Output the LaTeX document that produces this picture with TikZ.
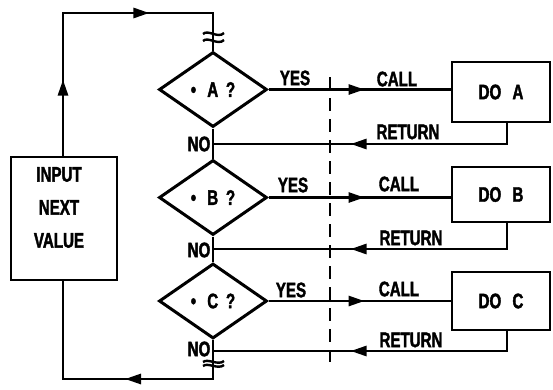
\documentclass[tikz,border=0pt]{standalone}
\usepackage{fontspec}
\setmainfont{Liberation Sans}[FakeStretch=0.72,FakeBold=1.8]
\usetikzlibrary{shapes.geometric,arrows.meta,decorations.markings}
\tikzset{
  lbl/.style={font=\fontsize{21}{33}\selectfont\bfseries, inner sep=0pt},
  flow/.style={line width=2.8pt, line join=miter},
  boxst/.style={draw, line width=2.8pt, inner sep=0pt, font=\fontsize{21}{21}\selectfont\bfseries},
  dia/.style={draw, diamond, line width=3pt, inner sep=0pt, minimum width=108pt, minimum height=75pt, font=\fontsize{21}{21}\selectfont\bfseries},
  tipat/.style={postaction={decorate, decoration={markings, mark=at position #1 with {\arrow{Triangle[length=16pt,width=10pt]}}}}},
  brk/.style={line width=2.4pt},
  dash line/.style={line width=2.4pt, dash pattern=on 13pt off 8pt}
}
\begin{document}
\begin{tikzpicture}[x=1pt,y=-1pt]
\fill[white] (0,0) rectangle (553,389);
\useasboundingbox (0,0) rectangle (553,389);
% boxes
\node[boxst, minimum width=106pt, minimum height=123pt] (inbox) at (64,218.5) {};
\node[lbl, align=center] (intext) at (59,207.5) {INPUT\\NEXT\\VALUE};
\node[boxst, minimum width=98pt, minimum height=60pt] (doA) at (501,92) {DO\,\, A};
\node[boxst, minimum width=98pt, minimum height=55pt] (doB) at (501,194.5) {DO\,\, B};
\node[boxst, minimum width=98pt, minimum height=58pt] (doC) at (501,301) {DO\,\, C};
% diamonds
\node[dia] (dA) at (213,89.5) {\textbullet\,\, A\, ?};
\node[dia] (dB) at (213,197.5) {\textbullet\,\, B\, ?};
\node[dia] (dC) at (213,301) {\textbullet\,\, C\, ?};
% coordinates
\coordinate (tl) at (63,13);
\coordinate (tr) at (213,13);
\coordinate (bl) at (63,379);
\coordinate (br) at (213,379);
\coordinate (jA) at (213,144);
\coordinate (jB) at (213,249);
\coordinate (jC) at (213,351);
\coordinate (dtop) at (330,77);
\coordinate (dbot) at (330,362);
% loop
\draw[flow, tipat=76pt, tipat=229pt] (inbox.north -| tl) -- (tl) -- (tr) -- (dA.north);
\draw[flow, tipat=127pt] (dC.south) -- (br) -- (bl) -- (inbox.south -| bl);
% main vertical
\draw[flow] (dA.south) -- (dB.north);
\draw[flow] (dB.south) -- (dC.north);
% calls
\draw[flow, tipat=96pt] (dA.east) -- (doA.west |- dA.east);
\draw[flow, tipat=96pt] (dB.east) -- (doB.west |- dB.east);
\draw[flow, tipat=96pt] (dC.east) -- (doC.west |- dC.east);
% returns
\draw[flow, tipat=177pt] ([xshift=6pt]doA.south) |- (jA);
\draw[flow, tipat=182pt] ([xshift=6pt]doB.south) |- (jB);
\draw[flow, tipat=176pt] ([xshift=6pt]doC.south) |- (jC);
% dashed divider
\draw[dash line] (dtop) -- (dbot);
% breaks
\draw[brk] (203,34) .. controls (208,29) and (218,39) .. (224,33);
\draw[brk] (203,41) .. controls (208,36) and (218,46) .. (224,40);
\draw[brk] (203,362) .. controls (208,358) and (218,366) .. (224,361);
\draw[brk] (203,366) .. controls (208,362) and (218,370) .. (224,365);
% labels
\node[lbl] (yA) at (295,78) {YES};
\node[lbl] (yB) at (293,185) {YES};
\node[lbl] (yC) at (291,290) {YES};
\node[lbl] (cA) at (397,79) {CALL};
\node[lbl] (cB) at (399,184) {CALL};
\node[lbl] (cC) at (399,289) {CALL};
\node[lbl] (rA) at (408,132) {RETURN};
\node[lbl] (rB) at (411,238) {RETURN};
\node[lbl] (rC) at (411,340) {RETURN};
\node[lbl] (nA) at (199,144) {NO};
\node[lbl] (nB) at (199,250) {NO};
\node[lbl] (nC) at (199,349) {NO};
\end{tikzpicture}
\end{document}
